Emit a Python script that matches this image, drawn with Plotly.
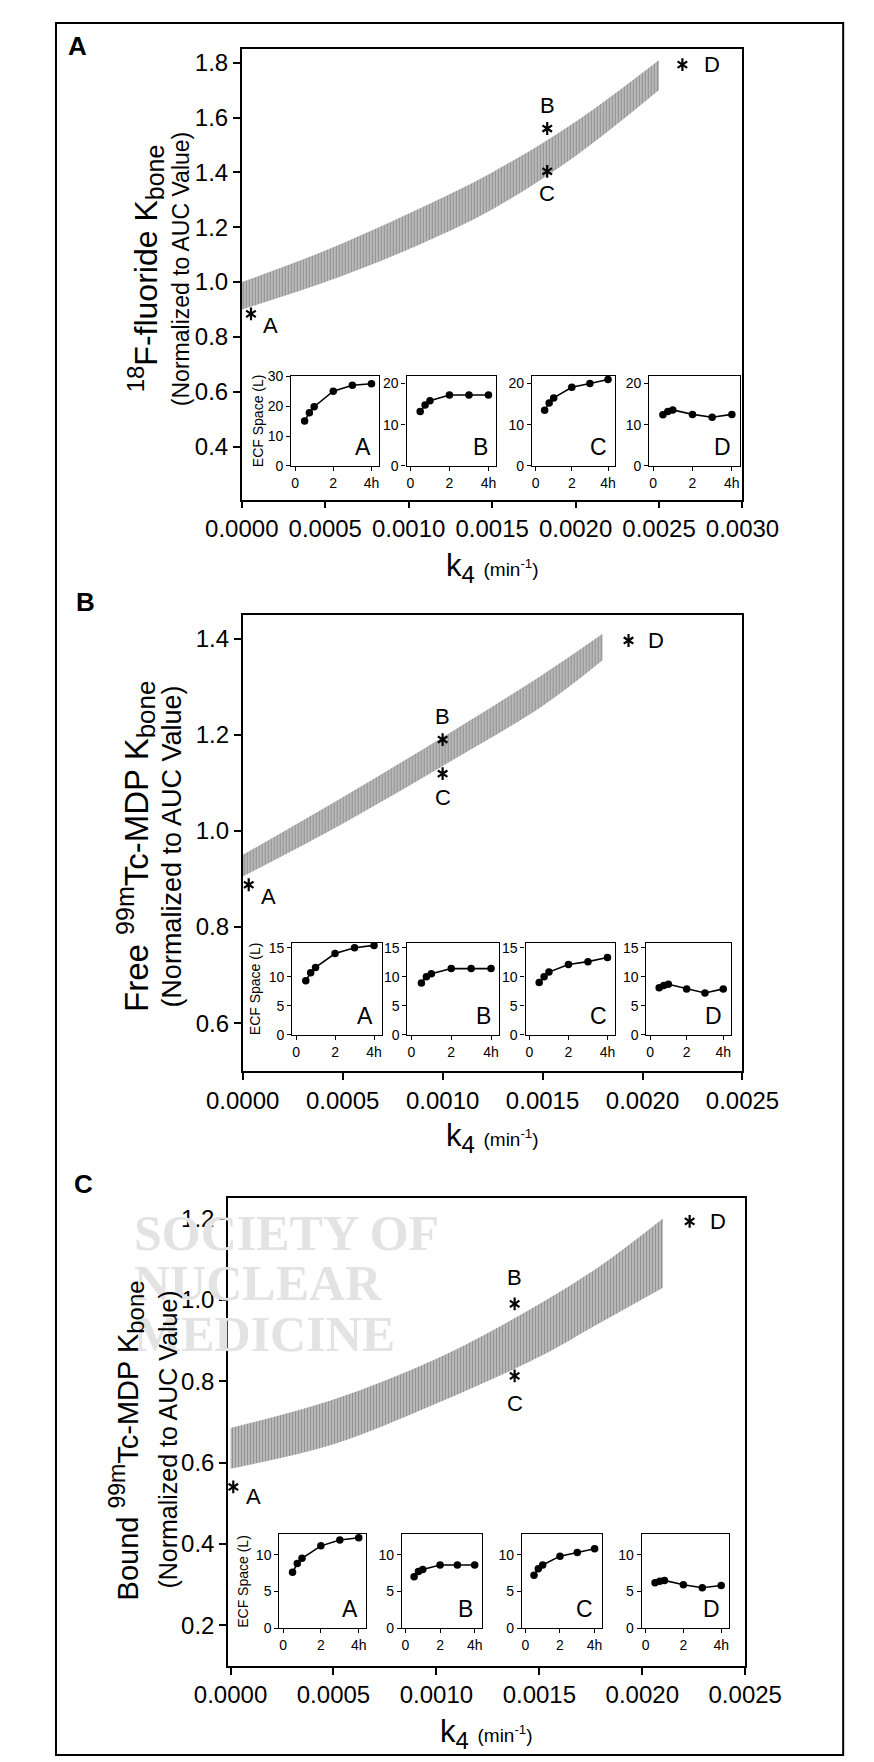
import plotly.graph_objects as go

W, H = 874, 1762
FONT = "Liberation Sans, Arial, Helvetica, sans-serif"

# ---------------- data ----------------
# Panel A (18F-fluoride)
a_band_x = [0.0, 0.0005, 0.0010, 0.0015, 0.0020, 0.0025]
a_band_hi = [1.00, 1.115, 1.25, 1.40, 1.585, 1.81]
a_band_lo = [0.90, 1.00, 1.12, 1.265, 1.46, 1.70]
a_star_x = [0.000055, 0.00183, 0.00183, 0.00264]
a_star_y = [0.884, 1.56, 1.404, 1.793]

# Panel B (free 99mTc-MDP)
b_band_x = [0.0, 0.0005, 0.0010, 0.0015, 0.0018]
b_band_hi = [0.95, 1.07, 1.195, 1.325, 1.41]
b_band_lo = [0.905, 1.015, 1.135, 1.26, 1.355]
b_star_x = [0.00003, 0.0010, 0.0010, 0.00193]
b_star_y = [0.888, 1.19, 1.119, 1.396]

# Panel C (bound 99mTc-MDP)
c_band_x = [0.0, 0.0005, 0.0010, 0.0015, 0.0018, 0.0021]
c_band_hi = [0.685, 0.755, 0.855, 0.99, 1.085, 1.20]
c_band_lo = [0.585, 0.645, 0.745, 0.86, 0.945, 1.03]
c_star_x = [0.0000134, 0.00138, 0.00138, 0.00223]
c_star_y = [0.54, 0.99, 0.813, 1.193]

star_labels = ["A", "B", "C", "D"]

# insets: ECF space (L) vs time (h)
t_hours = [0.5, 0.75, 1, 2, 3, 4]
a_ecf = {
    "A": [15.0, 17.8, 19.8, 25.0, 27.0, 27.5],
    "B": [13.2, 14.8, 15.8, 17.2, 17.2, 17.2],
    "C": [13.5, 15.3, 16.5, 19.1, 20.0, 21.0],
    "D": [12.4, 13.2, 13.6, 12.5, 11.8, 12.5],
}
b_ecf = {
    "A": [9.3, 10.7, 11.6, 14.0, 15.0, 15.4],
    "B": [8.9, 10.0, 10.5, 11.4, 11.4, 11.4],
    "C": [9.0, 10.0, 10.8, 12.1, 12.6, 13.3],
    "D": [8.1, 8.5, 8.7, 7.9, 7.2, 7.9],
}
c_ecf = {
    "A": [7.6, 8.8, 9.5, 11.2, 12.0, 12.3],
    "B": [7.0, 7.7, 8.0, 8.6, 8.6, 8.6],
    "C": [7.2, 8.1, 8.6, 9.8, 10.3, 10.8],
    "D": [6.2, 6.4, 6.5, 5.9, 5.5, 5.8],
}
# inset y-axis ticks per panel / inset
a_inset_yticks = {"A": [0, 10, 20, 30], "B": [0, 10, 20], "C": [0, 10, 20], "D": [0, 10, 20]}
b_inset_yticks = {k: [0, 5, 10, 15] for k in "ABCD"}
c_inset_yticks = {k: [0, 5, 10] for k in "ABCD"}
inset_xticks = [0, 2, 4]
inset_xticktext = ["0", "2", "4h"]

# ---------------- layout helpers ----------------
def xd(p0, p1):
    return [p0 / W, p1 / W]

def yd(top, bottom):
    return [1 - bottom / H, 1 - top / H]

def sz(txt, s):
    return "<span style='font-size:%dpx'>%s</span>" % (s, txt)

panels = [
    dict(frame=(215, 762, 33, 488), xr=[0, 0.003], xt=[0, 0.0005, 0.001, 0.0015, 0.002, 0.0025, 0.003],
         yr=[0.207, 1.851], yt=[0.4, 0.6, 0.8, 1.0, 1.2, 1.4, 1.6, 1.8],
         bx=a_band_x, bhi=a_band_hi, blo=a_band_lo, sx=a_star_x, sy=a_star_y,
         ecf=a_ecf, iyt=a_inset_yticks,
         iyr={"A": [0, 30.2], "B": [0, 21.9], "C": [0, 21.9], "D": [0, 21.9]},
         insets=[(269, 365), (395, 493), (532, 623), (660, 759)], iy=(363, 454),
         letter=("A", 35, 30), k4y=557,
         t1="<sup>%s</sup>F-fluoride K<sub>%s</sub>" % (sz("18", 24), sz("bone", 25)),
         t1x=110, t2x=148, ty=255, t1s=32, t2s=23,
         ecfx=232, shifts=[(20, -12), (0, 23), (0, -22), (30, 0)]),
    dict(frame=(216, 762, 604, 1065), xr=[0, 0.0025], xt=[0, 0.0005, 0.001, 0.0015, 0.002, 0.0025],
         yr=[0.5, 1.45], yt=[0.6, 0.8, 1.0, 1.2, 1.4],
         bx=b_band_x, bhi=b_band_hi, blo=b_band_lo, sx=b_star_x, sy=b_star_y,
         ecf=b_ecf, iyt=b_inset_yticks, iyr={k: [0, 15.9] for k in "ABCD"},
         insets=[(270, 368), (396, 496), (525, 623), (657, 749)], iy=(935, 1028),
         letter=("B", 44, 591), k4y=1132,
         t1="Free <sup>%s</sup>Tc-MDP K<sub>%s</sub>" % (sz("99m", 25), sz("bone", 26)),
         t1x=100, t2x=139, ty=838, t1s=33, t2s=27,
         ecfx=229, shifts=[(20, -12), (0, 23), (0, -24), (27, 0)]),
    dict(frame=(200, 765, 1193, 1665), xr=[-0.000012, 0.0025], xt=[0, 0.0005, 0.001, 0.0015, 0.002, 0.0025],
         yr=[0.1, 1.25], yt=[0.2, 0.4, 0.6, 0.8, 1.0, 1.2],
         bx=c_band_x, bhi=c_band_hi, blo=c_band_lo, sx=c_star_x, sy=c_star_y,
         ecf=c_ecf, iyt=c_inset_yticks, iyr={k: [0, 12.8] for k in "ABCD"},
         insets=[(256, 351), (390, 477), (521, 608), (652, 747)], iy=(1532, 1627),
         letter=("C", 42, 1179), k4y=1734,
         t1="Bound <sup>%s</sup>Tc-MDP K<sub>%s</sub>" % (sz("99m", 23), sz("bone", 24)),
         t1x=89, t2x=134, ty=1437, t1s=29, t2s=25,
         ecfx=217, shifts=[(20, -10), (0, 26), (0, -28), (28, 0)]),
]

fig = go.Figure()
layout = dict(
    width=W, height=H, margin=dict(l=0, r=0, t=0, b=0),
    paper_bgcolor="white", plot_bgcolor="rgba(0,0,0,0)", showlegend=False,
    font=dict(family=FONT, color="black"),
)
annotations = []
shapes = []

# watermark (behind other annotations)
for txt, yy in [("SOCIETY OF", 1228), ("NUCLEAR", 1279), ("MEDICINE", 1330)]:
    annotations.append(dict(text="<b>%s</b>" % txt, xref="paper", yref="paper", x=95 / W, y=1 - yy / H,
                            xanchor="left", yanchor="middle", showarrow=False,
                            font=dict(family="Liberation Serif, Times New Roman, serif", size=50, color="#e3e3e3")))

ax_i = 0
def new_axes():
    global ax_i
    ax_i += 1
    return ax_i

main_axis_common = dict(showline=True, mirror=True, linecolor="black", linewidth=1.6,
                        ticks="outside", ticklen=7, tickwidth=1.5, tickcolor="black",
                        showgrid=False, zeroline=False, tickfont=dict(size=24, family=FONT))
inset_axis_common = dict(showline=True, mirror=True, linecolor="black", linewidth=1.2,
                         ticks="outside", ticklen=4, tickwidth=1.2, tickcolor="black",
                         showgrid=False, zeroline=False, tickfont=dict(size=14, family=FONT))

for p in panels:
    x0, x1, y0, y1 = p["frame"]
    n = new_axes()
    xa = "xaxis" if n == 1 else "xaxis%d" % n
    ya = "yaxis" if n == 1 else "yaxis%d" % n
    xref = "x" if n == 1 else "x%d" % n
    yref = "y" if n == 1 else "y%d" % n
    layout[xa] = dict(domain=xd(x0, x1), anchor=yref, range=p["xr"], tickvals=p["xt"],
                      tickformat=".4f", **main_axis_common)
    layout[ya] = dict(domain=yd(y0, y1), anchor=xref, range=p["yr"], tickvals=p["yt"],
                      tickformat=".1f", **main_axis_common)
    # band
    fig.add_trace(go.Scatter(x=p["bx"], y=p["blo"], mode="lines", line=dict(width=0, shape="spline"),
                             xaxis=xref, yaxis=yref, hoverinfo="skip"))
    fig.add_trace(go.Scatter(x=p["bx"], y=p["bhi"], mode="lines", line=dict(width=0, shape="spline"),
                             fill="tonexty", fillcolor="#bdbdbd",
                             fillpattern=dict(shape="|", size=3, solidity=0.5, fgcolor="#5a5a5a",
                                              bgcolor="#c6c6c6"),
                             xaxis=xref, yaxis=yref, hoverinfo="skip"))
    # asterisks (6-armed)
    for sym in ["y-up-open", "y-down-open"]:
        fig.add_trace(go.Scatter(x=p["sx"], y=p["sy"], mode="markers",
                                 marker=dict(symbol=sym, size=8, line=dict(width=2.2, color="black"), color="black"),
                                 xaxis=xref, yaxis=yref, hoverinfo="skip"))
    for lab, sx, sy, (dx, dy) in zip(star_labels, p["sx"], p["sy"], p["shifts"]):
        annotations.append(dict(text=lab, xref=xref, yref=yref, x=sx, y=sy, xshift=dx, yshift=dy,
                                showarrow=False, xanchor="center", yanchor="middle",
                                font=dict(size=22, family=FONT)))
    # panel letter
    L, lx, ly = p["letter"]
    annotations.append(dict(text="<b>%s</b>" % L, xref="paper", yref="paper", x=lx / W, y=1 - ly / H,
                            showarrow=False, xanchor="center", yanchor="middle",
                            font=dict(size=26, family=FONT)))
    # x title
    annotations.append(dict(text="k<sub>%s</sub> %s" % (sz("4", 24), sz("(min<sup>-1</sup>)", 19)),
                            xref="paper", yref="paper", x=(x0 + x1) / 2 / W, y=1 - p["k4y"] / H,
                            showarrow=False, xanchor="center", yanchor="middle",
                            font=dict(size=31, family=FONT)))
    # y titles
    annotations.append(dict(text=p["t1"], xref="paper", yref="paper", x=p["t1x"] / W, y=1 - p["ty"] / H,
                            showarrow=False, textangle=-90, xanchor="center", yanchor="middle",
                            font=dict(size=p["t1s"], family=FONT)))
    annotations.append(dict(text="(Normalized to AUC Value)", xref="paper", yref="paper",
                            x=p["t2x"] / W, y=1 - p["ty"] / H,
                            showarrow=False, textangle=-90, xanchor="center", yanchor="middle",
                            font=dict(size=p["t2s"], family=FONT)))
    # insets
    it, ib = p["iy"]
    for key, (ix0, ix1) in zip(star_labels, p["insets"]):
        m = new_axes()
        ixref, iyref = "x%d" % m, "y%d" % m
        layout["xaxis%d" % m] = dict(domain=xd(ix0, ix1), anchor=iyref, range=[-0.2, 4.4],
                                     tickvals=inset_xticks, ticktext=inset_xticktext, **inset_axis_common)
        layout["yaxis%d" % m] = dict(domain=yd(it, ib), anchor=ixref, range=p["iyr"][key],
                                     tickvals=p["iyt"][key], **inset_axis_common)
        fig.add_trace(go.Scatter(x=t_hours, y=p["ecf"][key], mode="lines+markers",
                                 line=dict(color="black", width=1.6),
                                 marker=dict(size=7.5, color="black"),
                                 xaxis=ixref, yaxis=iyref, hoverinfo="skip"))
        annotations.append(dict(text=key, xref="paper", yref="paper", x=(ix1 - 7) / W, y=1 - (ib - 4) / H,
                                showarrow=False, xanchor="right", yanchor="bottom",
                                font=dict(size=23, family=FONT)))
    annotations.append(dict(text="ECF Space (L)", xref="paper", yref="paper", x=p["ecfx"] / W,
                            y=1 - (it + ib) / 2 / H, showarrow=False, textangle=-90,
                            xanchor="center", yanchor="middle", font=dict(size=14, family=FONT)))

# outer border
shapes.append(dict(type="rect", xref="paper", yref="paper", x0=12 / W, x1=872 / W, y0=1 - 1755 / H, y1=1 - 7 / H,
                   line=dict(color="black", width=2)))

layout["annotations"] = annotations
layout["shapes"] = shapes
fig.update_layout(**layout)
fig.write_html("out.html")
